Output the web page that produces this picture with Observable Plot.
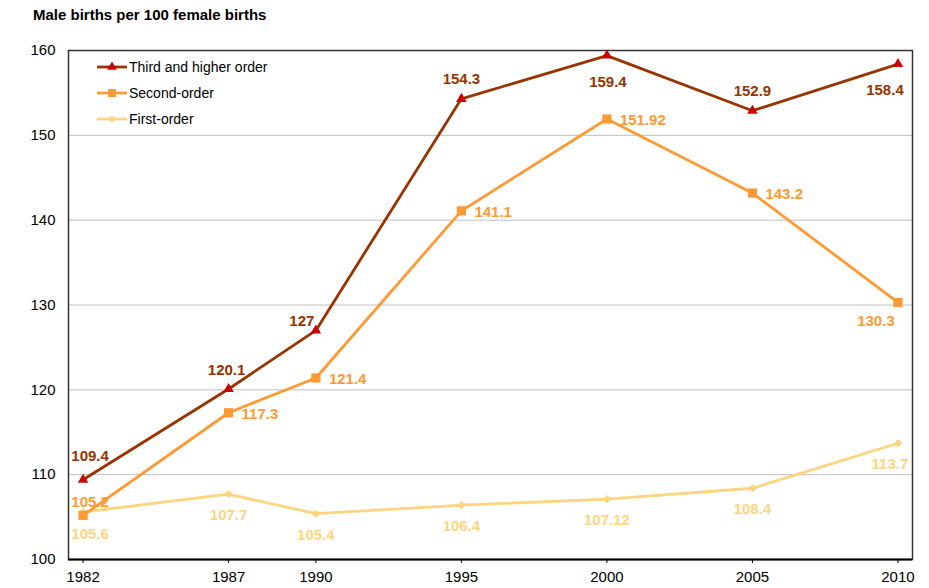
<!DOCTYPE html>
<html>
<head>
<meta charset="utf-8">
<script src="https://cdn.jsdelivr.net/npm/d3@7"></script>
<script src="https://cdn.jsdelivr.net/npm/@observablehq/plot@0.6"></script>
<style>
  html, body { margin: 0; padding: 0; background: #fff; }
  #wrap { position: relative; width: 929px; height: 588px; font-family: "Liberation Sans", Arial, sans-serif; }
  #title { position: absolute; left: 33px; top: 6px; font-size: 15px; font-weight: bold; color: #000; }
  #legend { position: absolute; left: 97px; top: 54px; font-size: 14px; color: #000; }
  .li { height: 26px; display: flex; align-items: center; }
  .li svg { margin-right: 2px; }
</style>
</head>
<body>
<div id="wrap">
  <div id="chart"></div>
  <div id="title">Male births per 100 female births</div>
  <div id="legend"></div>
</div>
<script>
const years = [1982, 1987, 1990, 1995, 2000, 2005, 2010];
const thirdOrder = [109.4, 120.1, 127, 154.3, 159.4, 152.9, 158.4];
const secondOrder = [105.2, 117.3, 121.4, 141.1, 151.92, 143.2, 130.3];
const firstOrder = [105.6, 107.7, 105.4, 106.4, 107.12, 108.4, 113.7];
const seriesNames = ["Third and higher order", "Second-order", "First-order"];
const yTicks = [100, 110, 120, 130, 140, 150, 160];

const cThird = "#993300", cThirdMark = "#CC0000";
const cSecond = "#FF9933";
const cFirst = "#FFD47F";

const mk = (vals) => years.map((y, i) => ({year: y, value: vals[i], i}));
const third = mk(thirdOrder);
const second = mk(secondOrder);
const first = mk(firstOrder);

// square diamond symbol
const diamond = {
  draw(ctx, size) {
    const h = Math.sqrt(size / 2);
    ctx.moveTo(0, -h); ctx.lineTo(h, 0); ctx.lineTo(0, h); ctx.lineTo(-h, 0); ctx.closePath();
  }
};

const fmt = d => String(d.value);
const lbl = {fontSize: 15, fontWeight: "bold"};
const sel = (data, idx) => data.filter(d => idx.includes(d.i));

const chart = Plot.plot({
  width: 929,
  height: 588,
  marginLeft: 68,
  marginRight: 17,
  marginTop: 50,
  marginBottom: 29,
  style: {fontFamily: "Liberation Sans, Arial, sans-serif", background: "#fff", color: "#000"},
  x: {domain: [1981.5, 2010.5]},
  y: {domain: [100, 160]},
  marks: [
    Plot.gridY(yTicks.slice(1, -1), {stroke: "#BFBFBF", strokeOpacity: 1, strokeWidth: 1}),
    Plot.frame({stroke: "#333", strokeWidth: 1.5}),
    Plot.ruleY([yTicks[0]], {stroke: "#000", strokeWidth: 2}),
    Plot.axisY({ticks: yTicks, tickSize: 0, tickPadding: 13, fontSize: 15, tickFormat: d => String(d), label: null}),
    Plot.axisX({ticks: years, tickSize: 4, tickPadding: 8, fontSize: 15, tickFormat: d => String(d), stroke: "#000", label: null}),
    // lines
    Plot.line(first, {x: "year", y: "value", stroke: cFirst, strokeWidth: 2.8}),
    Plot.line(second, {x: "year", y: "value", stroke: cSecond, strokeWidth: 2.8}),
    Plot.line(third, {x: "year", y: "value", stroke: cThird, strokeWidth: 2.8}),
    // markers
    Plot.dot(first, {x: "year", y: "value", symbol: diamond, r: 3.3, fill: cFirst}),
    Plot.dot(second, {x: "year", y: "value", symbol: "square", r: 5.2, fill: cSecond}),
    Plot.dot(third, {x: "year", y: "value", symbol: "triangle", r: 3.9, fill: cThirdMark}),
    // third-order labels
    Plot.text(sel(third, [0]), {x: "year", y: "value", text: fmt, fill: cThird, dx: 7, dy: -24, ...lbl}),
    Plot.text(sel(third, [1]), {x: "year", y: "value", text: fmt, fill: cThird, dx: -2, dy: -19, ...lbl}),
    Plot.text(sel(third, [2]), {x: "year", y: "value", text: fmt, fill: cThird, dx: -14, dy: -9, ...lbl}),
    Plot.text(sel(third, [3, 5]), {x: "year", y: "value", text: fmt, fill: cThird, dx: 0, dy: -20, ...lbl}),
    Plot.text(sel(third, [4]), {x: "year", y: "value", text: fmt, fill: cThird, dx: 1, dy: 27, ...lbl}),
    Plot.text(sel(third, [6]), {x: "year", y: "value", text: fmt, fill: cThird, dx: -13, dy: 26, ...lbl}),
    // second-order labels
    Plot.text(sel(second, [0]), {x: "year", y: "value", text: fmt, fill: cSecond, dx: 7, dy: -13, ...lbl}),
    Plot.text(sel(second, [1, 2, 3, 4, 5]), {x: "year", y: "value", text: fmt, fill: cSecond, dx: 13, dy: 1, textAnchor: "start", ...lbl}),
    Plot.text(sel(second, [6]), {x: "year", y: "value", text: fmt, fill: cSecond, dx: -22, dy: 19, ...lbl}),
    // first-order labels
    Plot.text(sel(first, [0]), {x: "year", y: "value", text: fmt, fill: cFirst, dx: 7, dy: 22, ...lbl}),
    Plot.text(sel(first, [1, 2, 3, 4, 5]), {x: "year", y: "value", text: fmt, fill: cFirst, dx: 0, dy: 21, ...lbl}),
    Plot.text(sel(first, [6]), {x: "year", y: "value", text: fmt, fill: cFirst, dx: -8, dy: 21, ...lbl})
  ]
});
document.getElementById("chart").appendChild(chart);

// legend
const legendItems = [
  {name: seriesNames[0], line: cThird, mark: cThirdMark, sym: d3.symbolTriangle, size: 40},
  {name: seriesNames[1], line: cSecond, mark: cSecond, sym: d3.symbolSquare, size: 64},
  {name: seriesNames[2], line: cFirst, mark: cFirst, sym: diamond, size: 28}
];
const leg = document.getElementById("legend");
for (const it of legendItems) {
  const row = document.createElement("div");
  row.className = "li";
  const s = d3.create("svg").attr("width", 30).attr("height", 14);
  s.append("line").attr("x1", 0).attr("x2", 30).attr("y1", 7).attr("y2", 7).attr("stroke", it.line).attr("stroke-width", 2.8);
  s.append("path").attr("d", d3.symbol(it.sym, it.size)()).attr("transform", "translate(15,7)").attr("fill", it.mark);
  row.appendChild(s.node());
  const t = document.createElement("span");
  t.textContent = it.name;
  row.appendChild(t);
  leg.appendChild(row);
}
</script>
</body>
</html>
